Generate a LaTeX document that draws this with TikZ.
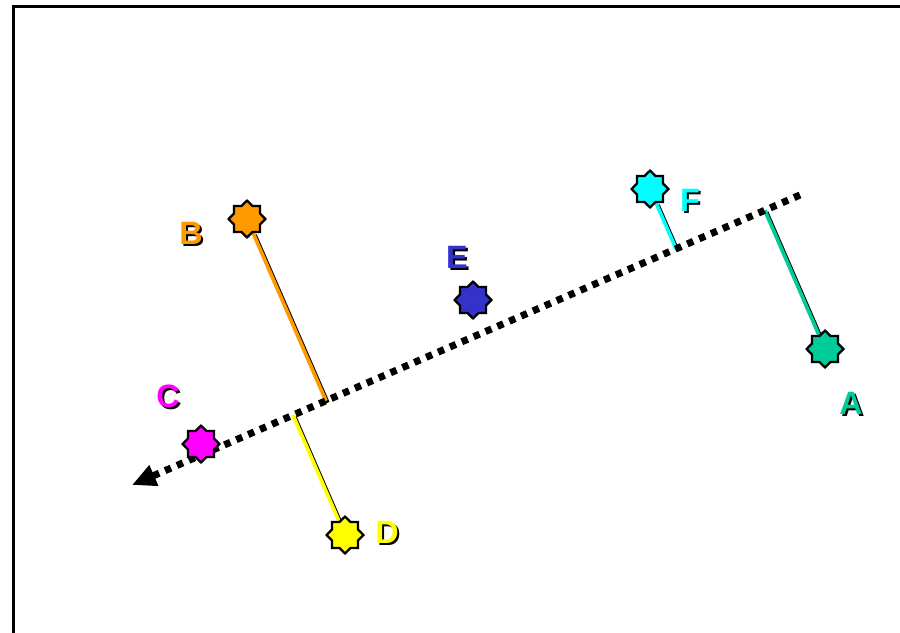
\documentclass[tikz,border=0pt]{standalone}
\usepackage{fontspec}
\setmainfont{Liberation Sans}
\usetikzlibrary{arrows.meta,shapes.geometric,calc,backgrounds}
\definecolor{colA}{RGB}{0,204,153}
\definecolor{colB}{RGB}{255,153,0}
\definecolor{colC}{RGB}{255,0,255}
\definecolor{colD}{RGB}{255,255,0}
\definecolor{colE}{RGB}{51,51,204}
\definecolor{colF}{RGB}{0,255,255}
\tikzset{
  >={Triangle[length=17pt,width=15pt]},
  pt/.style={
    star, star points=8, star point ratio=1.3, draw=black, line width=1.6pt,
    minimum size=0.92cm, inner sep=0pt
  },
  lbl/.style={font=\fontsize{23}{23}\selectfont\bfseries, inner sep=0pt},
  proj/.style={line width=2.6pt},
  projshade/.style={line width=2.6pt, black, transform canvas={shift={(1.3pt,-1.3pt)}}},
  axisline/.style={line width=5pt, dash pattern=on 4.6pt off 4.6pt, ->},
}
\newcommand{\ptlabel}[4]{%
  \node[lbl, black] (#1s) at (#2) [xshift=1.5pt, yshift=-1.5pt] {#4};
  \node[lbl, #3] (#1) at (#2) {#4};
}
\begin{document}
\begin{tikzpicture}[x=0.025cm, y=-0.025cm]
  \useasboundingbox (0,0) rectangle (900,632);
  \draw[line width=2.2pt] (13.5,6.5) rectangle (940,680);

  % axis ends
  \coordinate (ax1) at (800,195);
  \coordinate (ax2) at (132,485);

  % points
  \node[pt, fill=colA] (A) at (825,349) {};
  \node[pt, fill=colB] (B) at (247,219) {};
  \node[pt, fill=colC] (C) at (201,444) {};
  \node[pt, fill=colD] (D) at (345,535) {};
  \node[pt, fill=colE] (E) at (473,300) {};
  \node[pt, fill=colF] (F) at (650,189) {};

  % feet on the axis
  \coordinate (fA) at ($(ax1)!(A)!(ax2)$);
  \coordinate (fB) at ($(ax1)!(B)!(ax2)$);
  \coordinate (fD) at ($(ax1)!(D)!(ax2)$);
  \coordinate (fF) at ($(ax1)!(F)!(ax2)$);

  \begin{scope}[on background layer]
    \foreach \p/\c in {A/colA, B/colB, D/colD, F/colF} {
      \draw[projshade] (\p) -- (f\p);
      \draw[proj, \c] (\p) -- (f\p);
    }
    \draw[axisline] (ax1) -- (ax2);
  \end{scope}

  % labels
  \ptlabel{lA}{851,403}{colA}{A}
  \ptlabel{lB}{191,233}{colB}{B}
  \ptlabel{lC}{168,396}{colC}{C}
  \ptlabel{lD}{387,532}{colD}{D}
  \ptlabel{lE}{457,257}{colE}{E}
  \ptlabel{lF}{690,200}{colF}{F}
\end{tikzpicture}
\end{document}
